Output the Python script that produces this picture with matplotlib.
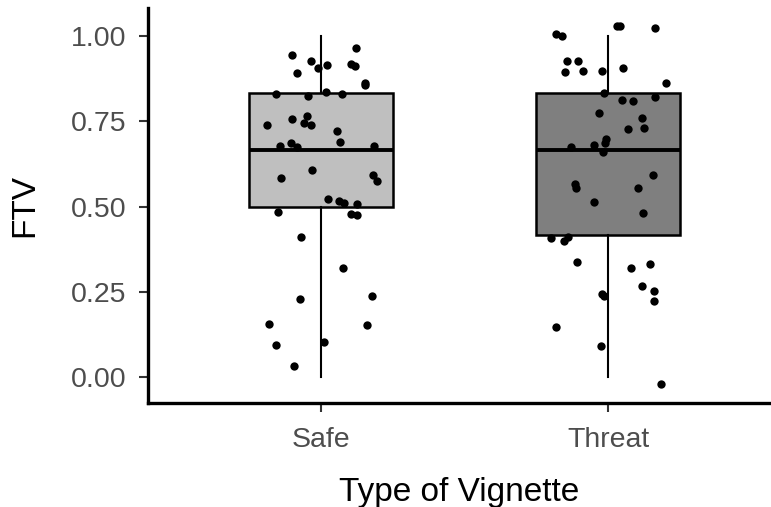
import numpy as np
import matplotlib
matplotlib.use("Agg")
from matplotlib import pyplot as plt

plt.rcParams['font.family'] = ['Liberation Sans', 'DejaVu Sans']

categories = ['Safe', 'Threat']
box_fill = ['#bfbfbf', '#7f7f7f']

# box statistics
whisker_lo = [0.0, 0.0]
q1 = [0.5, 0.417]
median = [0.667, 0.667]
q3 = [0.833, 0.833]
whisker_hi = [1.0, 1.0]

# jittered points: horizontal offset from category centre, and value
safe_dx = [0.122, -0.098, -0.032, -0.008, 0.023, -0.083, 0.104, 0.119, 0.156, 0.154,
           -0.156, -0.044, 0.020, 0.073, -0.188, -0.101, -0.046, -0.058, -0.035, 0.058,
           0.069, -0.104, -0.141, -0.081, 0.186, -0.030, -0.138, 0.183, 0.197, 0.025,
           0.064, 0.083, 0.125, -0.147, 0.105, 0.127, -0.067, 0.077, 0.178, -0.071,
           -0.180, 0.161, 0.013, -0.156, -0.091]
safe_y = [0.966, 0.944, 0.928, 0.906, 0.915, 0.892, 0.918, 0.912, 0.864, 0.858,
          0.832, 0.825, 0.837, 0.832, 0.741, 0.758, 0.766, 0.746, 0.739, 0.721,
          0.690, 0.688, 0.677, 0.675, 0.678, 0.608, 0.585, 0.592, 0.575, 0.523,
          0.516, 0.511, 0.508, 0.483, 0.478, 0.476, 0.411, 0.321, 0.238, 0.228,
          0.155, 0.151, 0.103, 0.095, 0.033]

threat_dx = [-0.182, -0.160, 0.030, 0.042, 0.161, -0.142, -0.105, -0.149, -0.089, -0.022,
             0.053, 0.200, -0.015, 0.048, 0.086, 0.162, -0.032, 0.117, 0.068, 0.126,
             -0.006, -0.010, -0.048, -0.128, -0.018, 0.155, -0.116, -0.111, 0.103, -0.050,
             0.120, -0.198, -0.155, -0.139, -0.110, 0.079, 0.146, 0.117, 0.159, 0.159,
             -0.022, -0.016, -0.180, -0.024, 0.184]
threat_y = [1.007, 1.000, 1.030, 1.030, 1.025, 0.927, 0.929, 0.895, 0.898, 0.898,
            0.906, 0.863, 0.833, 0.814, 0.809, 0.821, 0.776, 0.759, 0.729, 0.730,
            0.699, 0.688, 0.682, 0.674, 0.659, 0.594, 0.567, 0.555, 0.555, 0.515,
            0.481, 0.408, 0.400, 0.411, 0.336, 0.320, 0.331, 0.266, 0.253, 0.224,
            0.244, 0.237, 0.147, 0.092, -0.022]

fig = plt.figure(figsize=(7.71, 5.07), dpi=100)
ax = fig.add_axes([0.192, 0.205, 0.808, 0.779])

stats = []
for i in range(2):
    stats.append({'whislo': whisker_lo[i], 'q1': q1[i], 'med': median[i],
                  'q3': q3[i], 'whishi': whisker_hi[i], 'fliers': []})

bp = ax.bxp(stats, positions=[1, 2], widths=0.5, patch_artist=True, showcaps=False,
            boxprops=dict(edgecolor='black', linewidth=1.8),
            whiskerprops=dict(color='black', linewidth=1.5),
            medianprops=dict(color='black', linewidth=2.8, solid_capstyle='butt'))
for patch, c in zip(bp['boxes'], box_fill):
    patch.set_facecolor(c)

ax.scatter(1 + np.array(safe_dx), safe_y, s=36, color='black', zorder=3, linewidths=0)
ax.scatter(2 + np.array(threat_dx), threat_y, s=36, color='black', zorder=3, linewidths=0)

ax.set_xlim(0.4, 2.566)
ax.set_ylim(-0.077, 1.083)
ax.set_xticks([1, 2])
ax.set_xticklabels(categories)
ax.set_yticks([0, 0.25, 0.5, 0.75, 1.0])
ax.set_yticklabels(['0.00', '0.25', '0.50', '0.75', '1.00'])
ax.tick_params(labelsize=20.5, labelcolor='#4d4d4d', color='#333333', length=6.5, width=1.5)
ax.tick_params(axis='y', pad=9)
ax.tick_params(axis='x', pad=11)

for s in ['top', 'right']:
    ax.spines[s].set_visible(False)
for s in ['left', 'bottom']:
    ax.spines[s].set_linewidth(2.4)

ax.set_xlabel('Type of Vignette', fontsize=24, labelpad=17)
ax.set_ylabel('FTV', fontsize=24, labelpad=22)

fig.savefig('out.png', dpi=100)
